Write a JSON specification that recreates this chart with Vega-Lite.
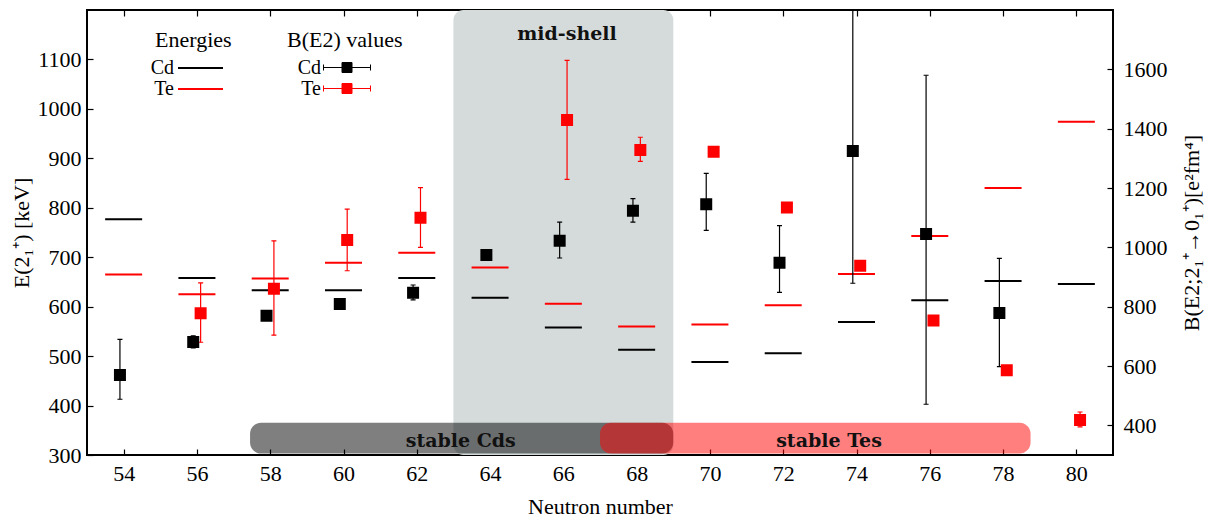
{
  "$schema": "https://vega.github.io/schema/vega-lite/v6.json",
  "width": 1026,
  "height": 445,
  "autosize": {"type": "none"},
  "padding": {"left": 87, "top": 10, "right": 97, "bottom": 66},
  "background": "white",
  "config": {
    "font": "Liberation Serif",
    "view": {"stroke": "black", "strokeWidth": 2},
    "axis": {
      "domain": false,
      "grid": false,
      "labelFont": "Liberation Serif",
      "labelFontSize": 22,
      "labelColor": "black",
      "titleFont": "Liberation Serif",
      "titleFontSize": 22,
      "titleFontWeight": "normal",
      "titleColor": "black",
      "tickColor": "black",
      "tickWidth": 1.2,
      "tickSize": -6
    },
    "legend": {
      "labelFont": "Liberation Serif",
      "labelFontSize": 20,
      "labelColor": "black",
      "titleFont": "Liberation Serif",
      "titleFontSize": 22,
      "titleFontWeight": "normal",
      "titleColor": "black"
    }
  },
  "datasets": {
    "energies": [
      {"N": 54, "iso": "Cd", "E": 777}, {"N": 56, "iso": "Cd", "E": 658}, {"N": 58, "iso": "Cd", "E": 633},
      {"N": 60, "iso": "Cd", "E": 633}, {"N": 62, "iso": "Cd", "E": 658}, {"N": 64, "iso": "Cd", "E": 618},
      {"N": 66, "iso": "Cd", "E": 558}, {"N": 68, "iso": "Cd", "E": 513}, {"N": 70, "iso": "Cd", "E": 488},
      {"N": 72, "iso": "Cd", "E": 506}, {"N": 74, "iso": "Cd", "E": 569}, {"N": 76, "iso": "Cd", "E": 613},
      {"N": 78, "iso": "Cd", "E": 652}, {"N": 80, "iso": "Cd", "E": 646},
      {"N": 54, "iso": "Te", "E": 665}, {"N": 56, "iso": "Te", "E": 625}, {"N": 58, "iso": "Te", "E": 657},
      {"N": 60, "iso": "Te", "E": 689}, {"N": 62, "iso": "Te", "E": 709}, {"N": 64, "iso": "Te", "E": 679},
      {"N": 66, "iso": "Te", "E": 606}, {"N": 68, "iso": "Te", "E": 560}, {"N": 70, "iso": "Te", "E": 564},
      {"N": 72, "iso": "Te", "E": 603}, {"N": 74, "iso": "Te", "E": 666}, {"N": 76, "iso": "Te", "E": 743},
      {"N": 78, "iso": "Te", "E": 840}, {"N": 80, "iso": "Te", "E": 974}
    ],
    "be2": [
      {"N": 54, "iso": "Cd", "B": 570, "lo": 488, "hi": 690},
      {"N": 56, "iso": "Cd", "B": 681, "lo": 661, "hi": 702},
      {"N": 58, "iso": "Cd", "B": 769, "lo": null, "hi": null},
      {"N": 60, "iso": "Cd", "B": 809, "lo": null, "hi": null},
      {"N": 62, "iso": "Cd", "B": 847, "lo": 823, "hi": 873},
      {"N": 64, "iso": "Cd", "B": 974, "lo": null, "hi": null},
      {"N": 66, "iso": "Cd", "B": 1022, "lo": 964, "hi": 1085},
      {"N": 68, "iso": "Cd", "B": 1123, "lo": 1085, "hi": 1164},
      {"N": 70, "iso": "Cd", "B": 1145, "lo": 1057, "hi": 1249},
      {"N": 72, "iso": "Cd", "B": 948, "lo": 848, "hi": 1073},
      {"N": 74, "iso": "Cd", "B": 1325, "lo": 879, "hi": 1900},
      {"N": 76, "iso": "Cd", "B": 1045, "lo": 471, "hi": 1580},
      {"N": 78, "iso": "Cd", "B": 779, "lo": 598, "hi": 963},
      {"N": 56, "iso": "Te", "B": 778, "lo": 680, "hi": 880},
      {"N": 58, "iso": "Te", "B": 860, "lo": 704, "hi": 1022},
      {"N": 60, "iso": "Te", "B": 1025, "lo": 921, "hi": 1129},
      {"N": 62, "iso": "Te", "B": 1100, "lo": 1000, "hi": 1201},
      {"N": 66, "iso": "Te", "B": 1429, "lo": 1229, "hi": 1630},
      {"N": 68, "iso": "Te", "B": 1328, "lo": 1290, "hi": 1371},
      {"N": 70, "iso": "Te", "B": 1322, "lo": null, "hi": null},
      {"N": 72, "iso": "Te", "B": 1134, "lo": null, "hi": null},
      {"N": 74, "iso": "Te", "B": 938, "lo": null, "hi": null},
      {"N": 76, "iso": "Te", "B": 753, "lo": null, "hi": null},
      {"N": 78, "iso": "Te", "B": 586, "lo": null, "hi": null},
      {"N": 80, "iso": "Te", "B": 418, "lo": 395, "hi": 445}
    ],
    "midshell": [
      {"start": 63, "end": 69, "label": "mid-shell", "labelN": 66.1, "labelE": 1139}
    ],
    "stable": [
      {"name": "stable Cds", "start": 57.45, "end": 69.0, "lo": 303, "hi": 365, "labelN": 63.2, "labelE": 316},
      {"name": "stable Tes", "start": 67.0, "end": 78.75, "lo": 303, "hi": 365, "labelN": 73.25, "labelE": 316}
    ]
  },
  "layer": [
    {
      "layer": [
        {
          "data": {"name": "midshell"},
          "mark": {"type": "rect", "color": "#D5DBDB", "cornerRadius": 10},
          "encoding": {
            "x": {"field": "start", "type": "quantitative", "scale": {"domain": [53, 81], "nice": false, "zero": false},
                  "axis": {"orient": "bottom", "values": [54, 56, 58, 60, 62, 64, 66, 68, 70, 72, 74, 76, 78, 80], "title": "Neutron number", "labelPadding": 14, "titlePadding": 12}},
            "x2": {"field": "end"}
          }
        },
        {
          "data": {"name": "stable"},
          "mark": {"type": "rect", "cornerRadius": 11, "opacity": 0.5},
          "encoding": {
            "x": {"field": "start", "type": "quantitative"},
            "x2": {"field": "end"},
            "y": {"field": "lo", "type": "quantitative", "scale": {"domain": [300, 1200], "nice": false, "zero": false},
                  "axis": {"orient": "left", "values": [300, 400, 500, 600, 700, 800, 900, 1000, 1100], "format": "d", "title": "E(2₁⁺) [keV]", "labelPadding": 12, "titlePadding": 4}},
            "y2": {"field": "hi"},
            "fill": {"condition": {"test": "datum.name === 'stable Cds'", "value": "black"}, "value": "#ff0000"}
          }
        },
        {
          "data": {"name": "stable"},
          "mark": {"type": "text", "font": "DejaVu Serif", "fontWeight": "bold", "fontSize": 19, "color": "#111111", "baseline": "alphabetic", "align": "center"},
          "encoding": {
            "x": {"field": "labelN", "type": "quantitative"},
            "y": {"field": "labelE", "type": "quantitative"},
            "text": {"field": "name"}
          }
        },
        {
          "data": {"name": "midshell"},
          "mark": {"type": "text", "font": "DejaVu Serif", "fontWeight": "bold", "fontSize": 19, "color": "#111111", "baseline": "alphabetic", "align": "center"},
          "encoding": {
            "x": {"field": "labelN", "type": "quantitative"},
            "y": {"field": "labelE", "type": "quantitative"},
            "text": {"field": "label"}
          }
        },
        {
          "data": {"name": "energies"},
          "mark": {"type": "tick", "orient": "horizontal", "size": 37, "thickness": 0, "filled": false, "strokeWidth": 2, "opacity": 1},
          "encoding": {
            "x": {"field": "N", "type": "quantitative"},
            "y": {"field": "E", "type": "quantitative"},
            "color": {"field": "iso", "type": "nominal", "scale": {"domain": ["Cd", "Te"], "range": ["black", "#ff0000"]},
                      "legend": {"title": "Energies", "orient": "none", "legendX": 68, "legendY": 20, "symbolType": "M-2.25,0H2.25", "symbolSize": 400, "symbolStrokeWidth": 2, "symbolFillColor": "transparent", "rowPadding": 0, "labelAlign": "right", "symbolOffset": 34.5, "labelOffset": -37.5}}
          }
        }
      ]
    },
    {
      "data": {"name": "be2"},
      "layer": [
        {
          "transform": [{"filter": "datum.iso === 'Cd' && datum.lo != null"}],
          "mark": {"type": "rule", "strokeWidth": 1.2, "xOffset": -3.7, "clip": true},
          "encoding": {
            "x": {"field": "N", "type": "quantitative", "axis": {"orient": "top", "values": [54, 56, 58, 60, 62, 64, 66, 68, 70, 72, 74, 76, 78, 80], "labels": false, "title": null}},
            "y": {"field": "lo", "type": "quantitative", "scale": {"domain": [300, 1800], "nice": false, "zero": false},
                  "axis": {"orient": "right", "values": [400, 600, 800, 1000, 1200, 1400, 1600], "format": "d", "title": "B(E2;2₁⁺→0₁⁺)[e²fm⁴]", "titleAngle": 270, "labelPadding": 16, "titlePadding": 36}},
            "y2": {"field": "hi"},
            "color": {"field": "iso", "type": "nominal", "scale": {"domain": ["Cd", "Te"], "range": ["black", "#ff0000"]}, "legend": null}
          }
        },
        {
          "transform": [{"filter": "datum.iso === 'Cd' && datum.lo != null"}],
          "mark": {"type": "tick", "orient": "horizontal", "size": 5, "thickness": 0, "filled": false, "strokeWidth": 1.2, "xOffset": -3.7, "opacity": 1, "clip": true},
          "encoding": {
            "x": {"field": "N", "type": "quantitative"},
            "y": {"field": "lo", "type": "quantitative"},
            "color": {"field": "iso", "type": "nominal", "scale": {"domain": ["Cd", "Te"], "range": ["black", "#ff0000"]}, "legend": null}
          }
        },
        {
          "transform": [{"filter": "datum.iso === 'Cd' && datum.lo != null"}],
          "mark": {"type": "tick", "orient": "horizontal", "size": 5, "thickness": 0, "filled": false, "strokeWidth": 1.2, "xOffset": -3.7, "opacity": 1, "clip": true},
          "encoding": {
            "x": {"field": "N", "type": "quantitative"},
            "y": {"field": "hi", "type": "quantitative"},
            "color": {"field": "iso", "type": "nominal", "scale": {"domain": ["Cd", "Te"], "range": ["black", "#ff0000"]}, "legend": null}
          }
        },
        {
          "transform": [{"filter": "datum.iso === 'Te' && datum.lo != null"}],
          "mark": {"type": "rule", "strokeWidth": 1.2, "xOffset": 3.7, "clip": true},
          "encoding": {
            "x": {"field": "N", "type": "quantitative"},
            "y": {"field": "lo", "type": "quantitative"},
            "y2": {"field": "hi"},
            "color": {"field": "iso", "type": "nominal", "scale": {"domain": ["Cd", "Te"], "range": ["black", "#ff0000"]}, "legend": null}
          }
        },
        {
          "transform": [{"filter": "datum.iso === 'Te' && datum.lo != null"}],
          "mark": {"type": "tick", "orient": "horizontal", "size": 5, "thickness": 0, "filled": false, "strokeWidth": 1.2, "xOffset": 3.7, "opacity": 1, "clip": true},
          "encoding": {
            "x": {"field": "N", "type": "quantitative"},
            "y": {"field": "lo", "type": "quantitative"},
            "color": {"field": "iso", "type": "nominal", "scale": {"domain": ["Cd", "Te"], "range": ["black", "#ff0000"]}, "legend": null}
          }
        },
        {
          "transform": [{"filter": "datum.iso === 'Te' && datum.lo != null"}],
          "mark": {"type": "tick", "orient": "horizontal", "size": 5, "thickness": 0, "filled": false, "strokeWidth": 1.2, "xOffset": 3.7, "opacity": 1, "clip": true},
          "encoding": {
            "x": {"field": "N", "type": "quantitative"},
            "y": {"field": "hi", "type": "quantitative"},
            "color": {"field": "iso", "type": "nominal", "scale": {"domain": ["Cd", "Te"], "range": ["black", "#ff0000"]}, "legend": null}
          }
        },
        {
          "transform": [{"filter": "datum.iso === 'Cd'"}],
          "mark": {"type": "point", "shape": "square", "filled": true, "size": 100, "opacity": 1, "xOffset": -3.7},
          "encoding": {
            "x": {"field": "N", "type": "quantitative"},
            "y": {"field": "B", "type": "quantitative"},
            "fill": {"field": "iso", "type": "nominal", "scale": {"range": ["black", "#ff0000"]},
                     "legend": {"title": "B(E2) values", "orient": "none", "legendX": 200, "legendY": 20, "symbolType": "M-2.35,0H2.35M-2.35,-0.3V0.3M2.35,-0.3V0.3M-0.5,-0.5H0.5V0.5H-0.5Z", "symbolSize": 400, "symbolStrokeWidth": 1, "rowPadding": 0, "labelAlign": "right", "symbolOffset": 49.5, "labelOffset": -36.5}},
            "stroke": {"field": "iso", "type": "nominal", "scale": {"range": ["black", "#ff0000"]},
                     "legend": {"title": "B(E2) values", "orient": "none", "legendX": 200, "legendY": 20, "symbolType": "M-2.35,0H2.35M-2.35,-0.3V0.3M2.35,-0.3V0.3M-0.5,-0.5H0.5V0.5H-0.5Z", "symbolSize": 400, "symbolStrokeWidth": 1, "rowPadding": 0, "labelAlign": "right", "symbolOffset": 49.5, "labelOffset": -36.5}}
          }
        },
        {
          "transform": [{"filter": "datum.iso === 'Te'"}],
          "mark": {"type": "point", "shape": "square", "filled": true, "size": 100, "opacity": 1, "xOffset": 3.7},
          "encoding": {
            "x": {"field": "N", "type": "quantitative"},
            "y": {"field": "B", "type": "quantitative"},
            "fill": {"field": "iso", "type": "nominal", "scale": {"range": ["black", "#ff0000"]}},
            "stroke": {"field": "iso", "type": "nominal", "scale": {"range": ["black", "#ff0000"]}}
          }
        }
      ]
    }
  ],
  "resolve": {"scale": {"y": "independent"}, "axis": {"x": "independent", "y": "independent"}}
}
